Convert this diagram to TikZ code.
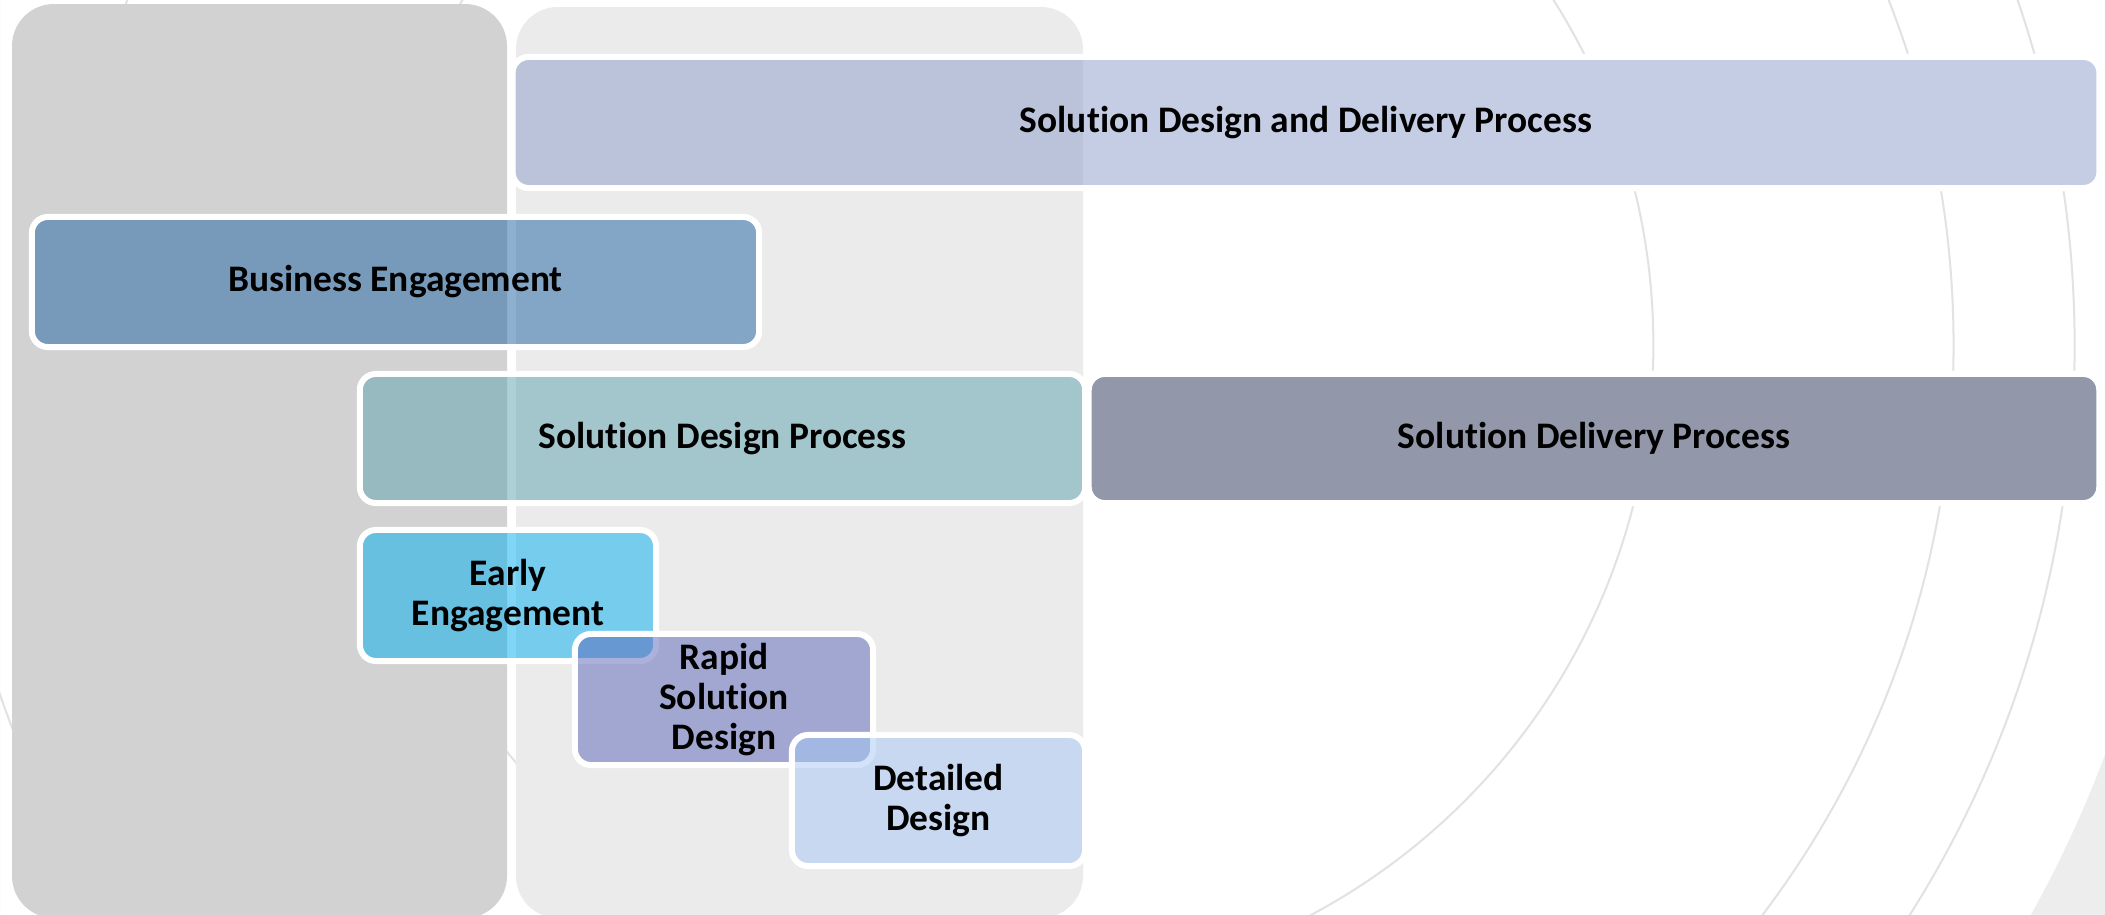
\documentclass[tikz,border=0pt]{standalone}
\usepackage{fontspec}
\setmainfont[Ligatures=NoCommon]{Carlito}
\definecolor{panelA}{RGB}{210,210,210}
\definecolor{panelB}{RGB}{235,235,235}
\definecolor{bgshade}{RGB}{237,237,237}
\definecolor{arcline}{RGB}{226,226,226}
\definecolor{cTop}{RGB}{141,157,205}
\definecolor{cBiz}{RGB}{29,99,165}
\definecolor{cSdp}{RGB}{93,161,175}
\definecolor{cDel}{RGB}{39,51,87}
\definecolor{cEarly}{RGB}{0,175,239}
\definecolor{cRapid}{RGB}{91,101,185}
\definecolor{cDet}{RGB}{165,199,245}
\pgfdeclarelayer{bglayer}
\pgfdeclarelayer{backing}
\pgfdeclarelayer{panels}
\pgfsetlayers{bglayer,backing,panels,main}
\begin{document}
\begin{tikzpicture}[x=0.01cm, y=-0.01cm,
  arcstyle/.style={draw=arcline, line width=0.02cm},
  panelbox/.style={rounded corners=0.42cm},
  backbox/.style={fill=white, rounded corners=0.16cm},
  procbox/.style={rectangle, rounded corners=0.16cm, draw=white, line width=0.06cm,
    fill opacity=0.5, text opacity=1, inner sep=0pt, align=center,
    font=\bfseries\fontsize{10.65}{11.4}\selectfont, text=black}]
\useasboundingbox (0,0) rectangle (2105,915);
\clip (0,0) rectangle (2105,915);
% process boxes
\node[procbox, fill=cTop, minimum width=15.86cm, minimum height=1.31cm] (sddp) at (1306,122.5) {Solution Design and Delivery Process};
\node[procbox, fill=cBiz, minimum width=7.27cm, minimum height=1.30cm] (biz) at (395.5,282) {Business Engagement};
\node[procbox, fill=cSdp, minimum width=7.25cm, minimum height=1.29cm] (sdp) at (722.5,438.5) {Solution Design Process};
\node[procbox, fill=cDel, minimum width=10.10cm, minimum height=1.29cm] (del) at (1594,438.5) {Solution Delivery Process};
\node[procbox, fill=cEarly, minimum width=2.96cm, minimum height=1.31cm] (early) at (508,595.5) {Early\\Engagement};
\node[procbox, fill=cRapid, minimum width=2.98cm, minimum height=1.31cm] (rapid) at (724,699.5) {Rapid\\Solution\\Design};
\node[procbox, fill=cDet, minimum width=2.93cm, minimum height=1.31cm] (det) at (938.5,800.5) {Detailed\\Design};
\begin{pgfonlayer}{bglayer}
\fill[white] (0,0) rectangle (2105,915);
\fill[bgshade, even odd rule] (0,0) rectangle (2105,915) (1008,345) circle[radius=11.7cm];
\draw[arcstyle] (1008,345) circle[radius=6.45cm];
\draw[arcstyle] (1008,345) circle[radius=9.45cm];
\draw[arcstyle] (1008,345) circle[radius=10.66cm];
\end{pgfonlayer}
\begin{pgfonlayer}{backing}
\foreach \b in {sddp,biz,sdp,del,early,rapid,det}
  \fill[backbox] (\b.north west) rectangle (\b.south east);
\end{pgfonlayer}
\begin{pgfonlayer}{panels}
\fill[panelA, panelbox] (12,4) rectangle (507,918);
\fill[panelB, panelbox] (516,7) rectangle (1083,918);
\end{pgfonlayer}
\end{tikzpicture}
\end{document}
